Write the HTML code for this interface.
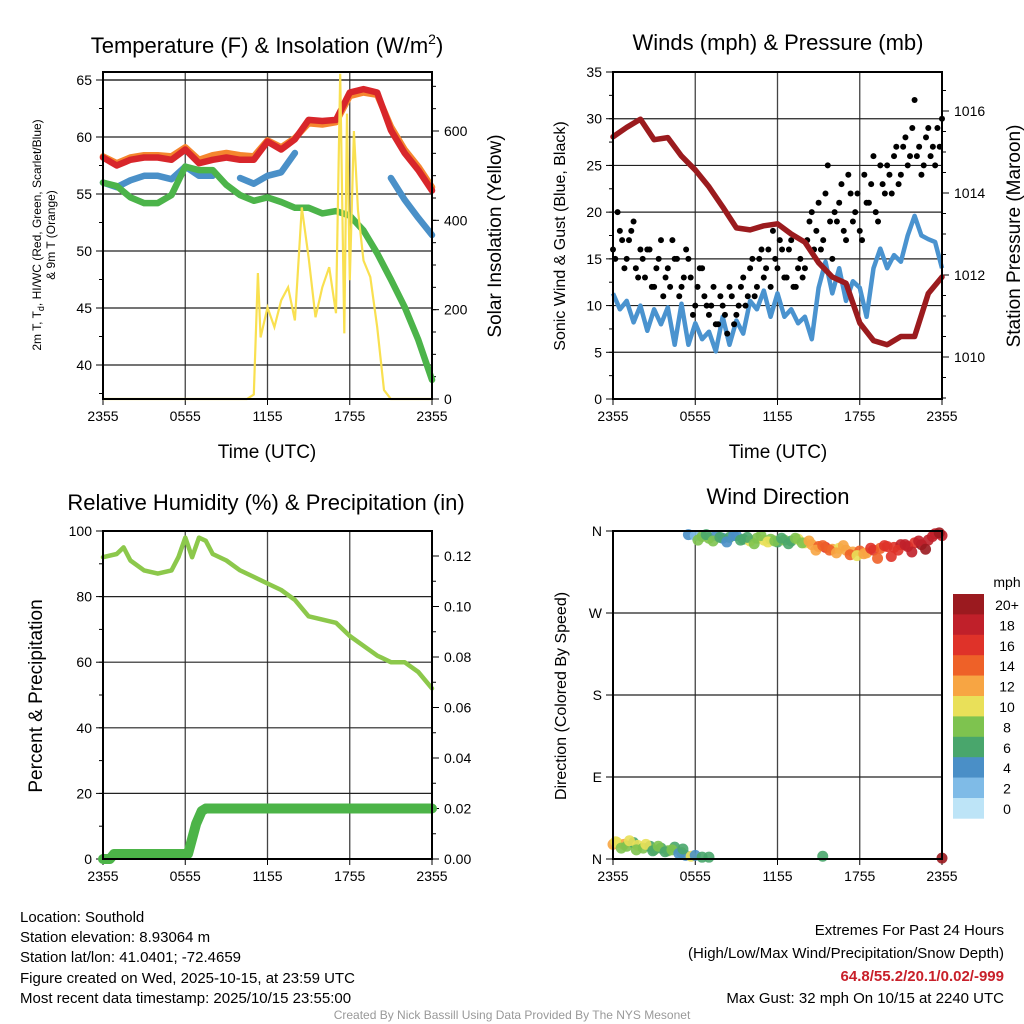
<!DOCTYPE html>
<html><head><meta charset="utf-8"><style>
html,body{margin:0;padding:0;background:#fff;}
svg{display:block;font-family:"Liberation Sans",Arial,sans-serif;}
</style></head><body>
<svg id="chart" xmlns="http://www.w3.org/2000/svg" width="1024" height="1024" viewBox="0 0 1024 1024">
<rect width="1024" height="1024" fill="#fff"/>
<g id="g1"></g>
<g id="g2"></g>
<g id="g3"></g>
<g id="g4"></g>

<text x="267" y="53" font-size="22" text-anchor="middle">Temperature (F) &amp; Insolation (W/m<tspan dy="-9" font-size="14">2</tspan><tspan dy="9">)</tspan></text>
<text x="778" y="50" font-size="22" text-anchor="middle">Winds (mph) &amp; Pressure (mb)</text>
<text x="266" y="510" font-size="22" text-anchor="middle">Relative Humidity (%) &amp; Precipitation (in)</text>
<text x="778" y="504" font-size="22" text-anchor="middle">Wind Direction</text>

<text x="267" y="458" font-size="19" text-anchor="middle">Time (UTC)</text>
<text x="778" y="458" font-size="19" text-anchor="middle">Time (UTC)</text>

<text transform="translate(41,235) rotate(-90)" font-size="12" text-anchor="middle">2m T, T<tspan dy="3" font-size="9">d</tspan><tspan dy="-3">, HI/WC (Red, Green, Scarlet/Blue)</tspan></text>
<text transform="translate(55,235) rotate(-90)" font-size="12" text-anchor="middle">&amp; 9m T (Orange)</text>
<text transform="translate(501,236) rotate(-90)" font-size="19" text-anchor="middle">Solar Insolation (Yellow)</text>
<text transform="translate(565,236) rotate(-90)" font-size="16" text-anchor="middle">Sonic Wind &amp; Gust (Blue, Black)</text>
<text transform="translate(1020,236) rotate(-90)" font-size="19" text-anchor="middle">Station Pressure (Maroon)</text>
<text transform="translate(42,696) rotate(-90)" font-size="19" text-anchor="middle">Percent &amp; Precipitation</text>
<text transform="translate(566,696) rotate(-90)" font-size="16" text-anchor="middle">Direction (Colored By Speed)</text>

<g font-size="15">
<text x="20" y="922">Location: Southold</text>
<text x="20" y="942">Station elevation: 8.93064 m</text>
<text x="20" y="962">Station lat/lon: 41.0401; -72.4659</text>
<text x="20" y="983">Figure created on Wed, 2025-10-15, at 23:59 UTC</text>
<text x="20" y="1003">Most recent data timestamp: 2025/10/15 23:55:00</text>
</g>
<g font-size="15" text-anchor="end">
<text x="1004" y="935">Extremes For Past 24 Hours</text>
<text x="1004" y="958">(High/Low/Max Wind/Precipitation/Snow Depth)</text>
<text x="1004" y="981" fill="#c8202a" font-weight="bold">64.8/55.2/20.1/0.02/-999</text>
<text x="1004" y="1003">Max Gust: 32 mph On 10/15 at 2240 UTC</text>
</g>
<text x="512" y="1019" font-size="12" fill="#999" text-anchor="middle">Created By Nick Bassill Using Data Provided By The NYS Mesonet</text>
</svg>
<script>
// ---- data ----
const xTickLabels = ["2355","0555","1155","1755","2355"];
const hourTimes = [0,1,2,3,4,5,6,7,8,9,10,11,12,13,14,15,16,17,18,19,20,21,22,23,24];
const temp2m = [58.2,57.5,58.0,58.2,58.2,58.0,58.9,57.7,58.0,58.2,58.0,58.0,59.6,58.9,59.8,61.5,61.4,61.5,63.9,64.2,63.9,60.6,58.6,57.1,55.3];
const temp9m = [58.3,57.7,58.2,58.4,58.4,58.3,59.1,58.0,58.4,58.6,58.4,58.3,59.7,59.1,59.9,61.2,61.1,61.3,63.6,63.9,63.7,60.9,58.9,57.4,55.6];
const heatIndex = [56.0,55.6,56.2,56.6,56.6,56.3,57.4,56.6,56.6,null,56.4,55.9,56.6,56.9,58.6,null,null,null,null,null,null,56.4,54.5,52.9,51.4];
const dewpoint = [56.0,55.7,54.7,54.2,54.2,54.9,57.4,57.1,57.1,55.8,54.9,54.4,54.7,54.3,53.8,53.8,53.3,53.5,53.1,51.8,49.8,47.5,45.1,42.2,38.7];
const radTimes = [0,10.5,11,11.3,11.5,12,12.5,13,13.5,14,14.5,15,15.5,16,16.5,17,17.3,17.6,17.8,18,18.3,18.6,19,19.5,20,20.5,21,24];
const radVals = [0,0,10,282,138,205,161,221,250,176,429,317,183,250,295,192,728,147,639,266,600,422,310,273,161,20,0,0];
const tempTicks = [40,45,50,55,60,65];
const radTicks = [0,200,400,600];

const windTimes = [0,0.5,1,1.5,2,2.5,3,3.5,4,4.5,5,5.5,6,6.5,7,7.5,8,8.5,9,9.5,10,10.5,11,11.5,12,12.5,13,13.5,14,14.5,15,15.5,16,16.5,17,17.5,18,18.5,19,19.5,20,20.5,21,21.5,22,22.5,23,23.5,24];
const windSpeed = [11.3,9.6,10.5,8.2,10.0,7.3,9.6,8.0,9.8,5.8,10.2,5.8,8.1,6.4,7.2,5.1,8.8,5.8,8.4,7.0,10.5,9.6,11.6,8.8,11.3,8.8,9.6,8.1,8.8,6.4,11.9,14.7,11.3,14.0,10.5,12.6,11.9,8.8,14.0,16.1,14.0,15.4,14.7,17.5,19.6,17.5,17.1,16.8,14.0];
const gustVals = [16,20,17,15,18,14,16, 13,16,12,15,11,14,17, 15,12,16,13,10,14,11, 9,12,8,10,7,11,9, 12,10,14,11,15,13,16, 18,14,16,13,17,12,15, 14,19,16,21,17,25,15, 19,23,17,22,20,18,24, 21,26,19,23,25,22,27, 24,28,26,32,27,25,29, 27,29,30];
const gustVals2 = [15,18,14,17,19,13,15, 16,12,14,17,13,12,15, 11,13,15,9,12,14,10, 10,8,11,9,12,8,10, 13,11,15,12,16,14,12, 15,17,13,16,12,14,13, 17,20,18,16,22,19,20, 21,18,24,19,22,17,21, 23,20,25,22,24,26,23, 27,25,29,26,24,28,26, 25,27];
const pressure = [1015.37,1015.6,1015.8,1015.3,1015.35,1014.9,1014.56,1014.15,1013.66,1013.15,1013.1,1013.2,1013.25,1013.0,1012.8,1012.3,1011.95,1011.8,1010.83,1010.4,1010.3,1010.5,1010.5,1011.55,1011.95];
const windTicks = [0,5,10,15,20,25,30,35];
const pressTicks = [1010,1012,1014,1016];

const rhTimes = [0,1,1.5,2,3,4,5,5.5,6,6.5,7,7.5,8,9,10,11,12,13,14,15,16,17,18,19,20,21,22,23,24];
const rhVals = [92,93,95,91,88,87,88,92,98,92,98,97,93,91,88,86,84,82,79,74,73,72,68,65,62,60,60,57,52];
const precipTimes = [0,0.5,0.8,6.2,6.5,6.8,7.2,7.5,24];
const precipVals = [0,0,0.002,0.002,0.008,0.014,0.019,0.02,0.02];
const rhTicks = [0,20,40,60,80,100];
const precipTicks = [0,0.02,0.04,0.06,0.08,0.10,0.12];

const dirTimes = [5.5,6,6.5,7,7.5,8,8.5,9,9.5,10,10.5,11,11.5,12,12.5,13,13.5,14,14.5,15,15.5,16,16.5,17,17.5,18,18.5,19,19.5,20,20.5,21,21.5,22,22.5,23,23.5,24,
  6.2,6.8,7.3,7.8,8.3,8.8,9.3,9.8,10.3,10.8,11.3,11.8,12.3,12.8,13.3,13.8,14.3,14.8,15.3,15.8,16.3,16.8,17.3,17.8,18.3,18.8,19.3,19.8,20.3,20.8,21.3,21.8,22.3,22.8,23.3,23.8,
  0,0.3,0.8,1,1.5,1.8,2.2,2.7,3,3.5,4,4.5,5,5.3,5.7,6,6.5,7,0.2,0.6,1.2,1.7,2.4,2.9,3.3,3.8,4.3,4.8,5.1,15.3,24];
const dirVals = [356,355,354,352,355,352,353,355,351,349,352,350,351,348,350,349,351,347,345,343,342,340,341,339,337,338,336,339,341,343,342,345,343,347,345,350,357,355,
  350,356,349,353,348,355,350,353,346,355,348,349,352,346,352,347,349,339,344,339,336,344,334,333,335,341,330,344,332,339,345,337,349,340,354,358,
  16,18,16,14,18,15,12,14,10,12,9,13,7,4,3,4,2,2,19,12,20,10,16,9,14,8,10,6,11,3,1];
const dirSpeed = [5,3,9,8,5,4,6,5,7,10,8,11,9,7,8,6,10,11,13,14,16,12,10,13,12,15,13,17,15,17,16,18,19,17,21,18,19,18,
  9,7,8,6,5,4,6,7,9,8,10,8,7,6,9,8,12,13,14,15,13,12,14,11,12,16,15,17,16,17,19,18,18,21,19,20,
  12,10,13,9,7,10,8,7,9,7,8,6,9,5,10,5,6,6,10,8,11,9,10,7,8,6,9,5,7,7,20];
const dirTickLabels = ["N","E","S","W","N"];
const dirTicks = [0,90,180,270,360];
const cbLabels = ["20+","18","16","14","12","10","8","6","4","2","0"];
const cbColors = ["#9b1a1f","#c0202a","#df3229","#ee6128","#f7a543","#e9e059","#7ec34f","#49a66c","#4a8fc7","#7fbbe7","#bde4f7"];

// ---- helpers ----
const NS="http://www.w3.org/2000/svg";
function mk(parent,tag,attrs){const e=document.createElementNS(NS,tag);for(const k in attrs)e.setAttribute(k,attrs[k]);parent.appendChild(e);return e;}
function linear(d0,d1,r0,r1){return v=>r0+(v-d0)*(r1-r0)/(d1-d0);}
function pathFrom(xs,ys,fx,fy){let d="",pen=false;for(let i=0;i<xs.length;i++){if(ys[i]==null){pen=false;continue;}d+=(pen?"L":"M")+fx(xs[i]).toFixed(1)+","+fy(ys[i]).toFixed(1);pen=true;}return d;}

function frame(g,L,R,T,B,xs,yTicks,fy,yLab,rTicks,fr,rLab,leftMinor,rightMinor){
  xs.forEach((t,i)=>{const x=L+(R-L)*t/24;const gl=mk(g,"line",{x1:x,x2:x,y1:T,y2:B,stroke:"#444","stroke-width":1.3});
    });
  yTicks.forEach(v=>{const y=fy(v);const gl=mk(g,"line",{x1:L,x2:R,y1:y,y2:y,stroke:"#222","stroke-width":1.2});
    });
  xs.forEach((t,i)=>{const x=L+(R-L)*t/24;mk(g,"line",{x1:x,x2:x,y1:B,y2:B+6,stroke:"#000","stroke-width":1});
    const tx=mk(g,"text",{x:x,y:B+22,"font-size":14,"text-anchor":"middle"});tx.textContent=xTickLabels[i];
    });
  yTicks.forEach((v,i)=>{const y=fy(v);mk(g,"line",{x1:L-7,x2:L,y1:y,y2:y,stroke:"#000","stroke-width":1});
    const tx=mk(g,"text",{x:L-11,y:y+5,"font-size":14,"text-anchor":"end"});tx.textContent=yLab[i];
    });
  leftMinor.forEach(v=>{const y=fy(v);if(y>T&&y<B)mk(g,"line",{x1:L-4,x2:L,y1:y,y2:y,stroke:"#000","stroke-width":1});});
  if(rTicks){rTicks.forEach((v,i)=>{const y=fr(v);mk(g,"line",{x1:R,x2:R+7,y1:y,y2:y,stroke:"#000","stroke-width":1});
    const tx=mk(g,"text",{x:R+12,y:y+5,"font-size":14,"text-anchor":"start"});tx.textContent=rLab[i];
    });
    rightMinor.forEach(v=>{const y=fr(v);if(y>T&&y<B)mk(g,"line",{x1:R,x2:R+4,y1:y,y2:y,stroke:"#000","stroke-width":1});});}
}
function border(g,L,R,T,B){const b=mk(g,"rect",{x:L,y:T,width:R-L,height:B-T,fill:"none",stroke:"#000","stroke-width":2});
  }
const xt=[0,6,12,18,24];
function rng(a,b,s){const r=[];for(let v=a;v<=b+1e-9;v+=s)r.push(+v.toFixed(4));return r;}

// ---- panel 1 ----
(function(){
  const g=document.getElementById("g1");const L=103,R=432,T=72,B=399;
  const fx=linear(0,24,L,R);const fy=linear(40,65,365,80);const fr=linear(0,600,399,131);
  frame(g,L,R,T,B,xt,tempTicks,fy,tempTicks.map(String),radTicks,fr,radTicks.map(String),rng(37.5,65,2.5),rng(0,700,50));
  mk(g,"line",{x1:L,x2:R,y1:T+8,y2:T+8,stroke:"#222","stroke-width":1.2});
  const lines=[[heatIndex,"#4a90c8"],[dewpoint,"#4cb44a"],[temp9m,"#f5862e"],[temp2m,"#d8262b"]];
  const names=["heat-index-line","dewpoint-line","temp-9m-line","temp-2m-line"];
  lines.forEach((l,i)=>{const p=mk(g,"path",{d:pathFrom(hourTimes,l[0],fx,fy),fill:"none",stroke:l[1],"stroke-width":6.5,"stroke-linejoin":"round","stroke-linecap":"round"});
    });
  const p=mk(g,"path",{d:pathFrom(radTimes,radVals,fx,fr),fill:"none",stroke:"#f9e050","stroke-width":2.2});
  
  border(g,L,R,T,B);
})();

// ---- panel 2 ----
(function(){
  const g=document.getElementById("g2");const L=613,R=942,T=72,B=399;
  const fx=linear(0,24,L,R);const fy=linear(0,35,399,72);const fr=linear(1010,1016,357,111);
  frame(g,L,R,T,B,xt,windTicks,fy,windTicks.map(String),pressTicks,fr,pressTicks.map(String),rng(0,35,2.5),rng(1009,1017,0.5));
  const w=mk(g,"path",{d:pathFrom(windTimes,windSpeed,fx,fy),fill:"none",stroke:"#4a93cf","stroke-width":4.5,"stroke-linejoin":"round"});
  
  gustVals.forEach((v,i)=>{const c=mk(g,"circle",{cx:fx(i/3),cy:fy(v),r:3,fill:"#000"});
    });
  gustVals2.forEach((v,i)=>{const c=mk(g,"circle",{cx:fx(i/3+1/6),cy:fy(v),r:3,fill:"#000"});
    });
  const p=mk(g,"path",{d:pathFrom(hourTimes,pressure,fx,fr),fill:"none",stroke:"#9b1b1e","stroke-width":5.5,"stroke-linejoin":"round","stroke-linecap":"round"});
  
  border(g,L,R,T,B);
})();

// ---- panel 3 ----
(function(){
  const g=document.getElementById("g3");const L=103,R=432,T=531,B=859;
  const fx=linear(0,24,L,R);const fy=linear(0,100,859,531);const fr=linear(0,0.12,859,556);
  frame(g,L,R,T,B,xt,rhTicks,fy,rhTicks.map(String),precipTicks,fr,precipTicks.map(v=>v.toFixed(2)),rng(0,100,10),rng(0,0.13,0.01));
  const pr=mk(g,"path",{d:pathFrom(precipTimes,precipVals,fx,fr),fill:"none",stroke:"#4cb448","stroke-width":10,"stroke-linejoin":"round","stroke-linecap":"round"});
  
  const rh=mk(g,"path",{d:pathFrom(rhTimes,rhVals,fx,fy),fill:"none",stroke:"#8cc84b","stroke-width":4.5,"stroke-linejoin":"round","stroke-linecap":"round"});
  
  border(g,L,R,T,B);
})();

// ---- panel 4 ----
(function(){
  const g=document.getElementById("g4");const L=613,R=942,T=531,B=859;
  const fx=linear(0,24,L,R);const fy=linear(0,360,859,531);
  frame(g,L,R,T,B,xt,dirTicks,fy,dirTickLabels,null,null,null,[],[]);
  dirTimes.forEach((t,i)=>{const k=Math.min(10,Math.floor(dirSpeed[i]/2));
    const c=mk(g,"circle",{cx:fx(t),cy:fy(dirVals[i]),r:5.5,fill:cbColors[10-k],"fill-opacity":0.9});
    });
  border(g,L,R,T,B);
  const cb=mk(g,"g",{});
  const t0=594,h=20.4;
  const u=mk(cb,"text",{x:1007,y:587,"font-size":14,"text-anchor":"middle"});u.textContent="mph";
  cbLabels.forEach((lab,i)=>{const r=mk(cb,"rect",{x:953,y:t0+i*h,width:31,height:h+0.3,fill:cbColors[i]});
    
    const tx=mk(cb,"text",{x:1007,y:t0+i*h+16,"font-size":14,"text-anchor":"middle"});tx.textContent=lab;
    });
})();
</script>
</body></html>
